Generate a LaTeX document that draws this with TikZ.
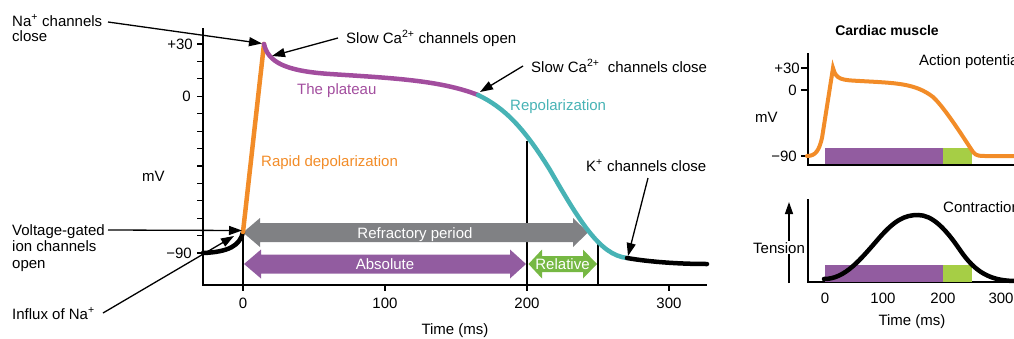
\documentclass[tikz,border=0pt]{standalone}
\usepackage{fontspec}
\setmainfont{Liberation Sans}
\usetikzlibrary{arrows.meta}
\definecolor{apOrange}{HTML}{F28C28}
\definecolor{apPurple}{HTML}{A24D9E}
\definecolor{apTeal}{HTML}{47B3B5}
\definecolor{barGray}{HTML}{808184}
\definecolor{barPurple}{HTML}{925CA0}
\definecolor{barGreen}{HTML}{76B843}
\definecolor{smallGreen}{HTML}{A6CE45}
\tikzset{
  lbl/.style={inner sep=0pt, font=\fontsize{15}{16}\selectfont},
  axisline/.style={line width=1.4pt, black},
  tickline/.style={line width=1.2pt, black},
  note/.style={line width=1.3pt, -{Triangle[length=13pt,width=9pt]}},
  curve/.style={line width=4.5pt, line cap=round},
  smallcurve/.style={line width=4pt, line cap=round},
}
\begin{document}
\begin{tikzpicture}[x=1pt,y=-1pt]
\useasboundingbox (0,0) rectangle (1014,338);
\clip (0,0) rectangle (1014,338);

% ---------------- main plot axes ----------------
\coordinate (yTop) at (203,28);
\coordinate (orig) at (203,285);
\coordinate (xEnd) at (707,285);
\draw[axisline] (yTop) -- (orig) -- (xEnd);
\foreach \k in {0,...,12}{
  \draw[tickline] (197,{44+\k*17.42}) -- (203,{44+\k*17.42});
}
\node[lbl, anchor=east] (yp30) at (193,44) {+30};
\node[lbl, anchor=east] (y0) at (191,96) {0};
\node[lbl, anchor=east] (ym90) at (192,253) {−90};
\node[lbl, anchor=base west] (mVmain) at (142,181) {mV};

% x ticks
\foreach \t/\x in {0/243,100/385,200/527,300/669}{
  \draw[tickline] (\x,285) -- (\x,291);
  \node[lbl] (xt\t) at (\x,303) {\t};
}
\node[lbl] (xlabel) at (455,331) {Time (ms)};

% vertical guide lines
\draw[tickline] (243,232) -- (243,285);
\draw[tickline] (527,141) -- (527,285);
\draw[tickline] (598,241) -- (598,285);

% ---------------- bars ----------------
% refractory (gray)
\fill[barGray] (243,232.5) -- (260,218) -- (260,223) -- (573,223) -- (573,218)
  -- (588,232.5) -- (573,247) -- (573,242) -- (260,242) -- (260,247) -- cycle;
\node[lbl, white, anchor=base] (refr) at (415,238) {Refractory period};
% absolute (purple)
\fill[barPurple] (244,264) -- (261,249.5) -- (261,254.5) -- (510,254.5) -- (510,249.5)
  -- (526,264) -- (510,278.5) -- (510,273.5) -- (261,273.5) -- (261,278.5) -- cycle;
\node[lbl, white, anchor=base] (abs) at (385,269) {Absolute};
% relative (green)
\fill[barGreen] (528.5,264) -- (542,249.5) -- (542,256) -- (583,256) -- (583,249.5)
  -- (597,264) -- (583,278.5) -- (583,272) -- (542,272) -- (542,278.5) -- cycle;
\node[lbl, white, anchor=base] (rel) at (562.5,269) {Relative};

% ---------------- action potential curve ----------------
\coordinate (pStart) at (203,253);
\coordinate (pOnset) at (243,232);
\coordinate (pPeak) at (264,44);
\coordinate (pPlat) at (330,74);
\coordinate (pRepo) at (478,95);
\coordinate (pMid) at (550,170);
\coordinate (pKclose) at (627,258);
\coordinate (pEnd) at (707,264);
\draw[curve, black] (pStart) .. controls (228,252) and (240,246) .. (pOnset);
\draw[curve, apOrange] (pOnset) -- (pPeak);
\draw[curve, apPurple] (pPeak) .. controls (268,62) and (285,71) .. (pPlat)
  .. controls (390,78) and (440,80) .. (pRepo);
\draw[curve, apTeal] (pRepo) .. controls (505,108) and (524,128) .. (pMid)
  .. controls (580,222) and (600,255) .. (pKclose);
\draw[curve, black] (pKclose) .. controls (650,262) and (680,264) .. (pEnd);

% ---------------- curve labels ----------------
\node[lbl, apPurple, anchor=base west] (plat) at (297,94) {The plateau};
\node[lbl, apTeal, anchor=base west] (repo) at (510,110) {Repolarization};
\node[lbl, apOrange, anchor=base west] (rapid) at (261,166) {Rapid depolarization};

% ---------------- annotations ----------------
\node[lbl, anchor=base west] (naclose) at (12,26) {Na\textsuperscript{+} channels};
\node[lbl, anchor=base west] (naclose2) at (12,41) {close};
\coordinate (naTail) at (108,22);
\coordinate (naTip) at (262,43.5);
\draw[note] (naTail) -- (naTip);

\node[lbl, anchor=base west] (caopen) at (346,43) {Slow Ca\textsuperscript{2+} channels open};
\coordinate (caoTail) at (338,38);
\coordinate (caoTip) at (272,56);
\draw[note] (caoTail) -- (caoTip);

\node[lbl, anchor=base west] (caclose) at (531,72) {Slow Ca\textsuperscript{2+}\ \ channels close};
\coordinate (cacTail) at (523,66);
\coordinate (cacTip) at (480,92);
\draw[note] (cacTail) -- (cacTip);

\node[lbl, anchor=base west] (kclose) at (586,171) {K\textsuperscript{+} channels close};
\coordinate (kTail) at (648,178);
\coordinate (kTip) at (628,256);
\draw[note] (kTail) -- (kTip);

\node[lbl, anchor=base west] (vg1) at (12,235) {Voltage-gated};
\node[lbl, anchor=base west] (vg2) at (12,251.5) {ion channels};
\node[lbl, anchor=base west] (vg3) at (12,268) {open};
\coordinate (vgTail) at (108,230);
\coordinate (vgTip) at (242,230.5);
\draw[note] (vgTail) -- (vgTip);

\node[lbl, anchor=base west] (influx) at (12,319) {Influx of Na\textsuperscript{+}};
\coordinate (inTail) at (103,313);
\coordinate (inTip) at (234,236);
\draw[note] (inTail) -- (inTip);

% ---------------- small plots ----------------
\node[lbl, font=\fontsize{14}{16}\selectfont\bfseries, anchor=base] (cardiac) at (887,35) {Cardiac muscle};

% plot 1
\draw[axisline] (808,53) -- (808,165) -- (1014,165);
\foreach \y in {68,90,156}{ \draw[tickline] (801,\y) -- (808,\y); }
\node[lbl, anchor=east] (sp30) at (800,68) {+30};
\node[lbl, anchor=east] (s0) at (797,90) {0};
\node[lbl, anchor=east] (sm90) at (797,156) {−90};
\node[lbl, anchor=base west] (smV) at (755,122) {mV};
\node[lbl, anchor=base west] (actp) at (919,65) {Action potential};
\fill[barPurple] (825,148) rectangle (943,164);
\fill[smallGreen] (943,148) rectangle (972,164);
\draw[smallcurve, apOrange] (807,156) .. controls (816,156) and (819,150) .. (822,138)
  -- (833,68) .. controls (836,80) and (842,80) .. (860,81)
  .. controls (895,83) and (915,83) .. (933,97)
  .. controls (945,108) and (965,140) .. (973,152)
  .. controls (976,156) and (980,156) .. (985,156) -- (1016,156);

% plot 2
\draw[axisline] (808,199) -- (808,282) -- (1014,282);
\fill[barPurple] (825,265) rectangle (943,282);
\fill[smallGreen] (943,265) rectangle (972,282);
\draw[curve, black] (824,279) .. controls (845,279) and (860,260) .. (880,237)
  .. controls (895,220) and (905,215) .. (918,215)
  .. controls (932,215) and (945,228) .. (960,250)
  .. controls (975,272) and (990,281) .. (1016,281);
\node[lbl, anchor=base west] (contr) at (943,212) {Contraction};
\coordinate (tBot) at (789,283);
\coordinate (tTop) at (789,202);
\draw[line width=1.4pt, -{Triangle[length=12pt,width=8pt]}] (tBot) -- (tTop);
\node[lbl, anchor=base, fill=white, inner sep=1pt] (tension) at (779,253) {Tension};
\foreach \t/\x in {0/825,100/883,200/943,300/1001}{
  \node[lbl] (st\t) at (\x,298) {\t};
}
\node[lbl] (sxlabel) at (912,322) {Time (ms)};
\end{tikzpicture}
\end{document}
